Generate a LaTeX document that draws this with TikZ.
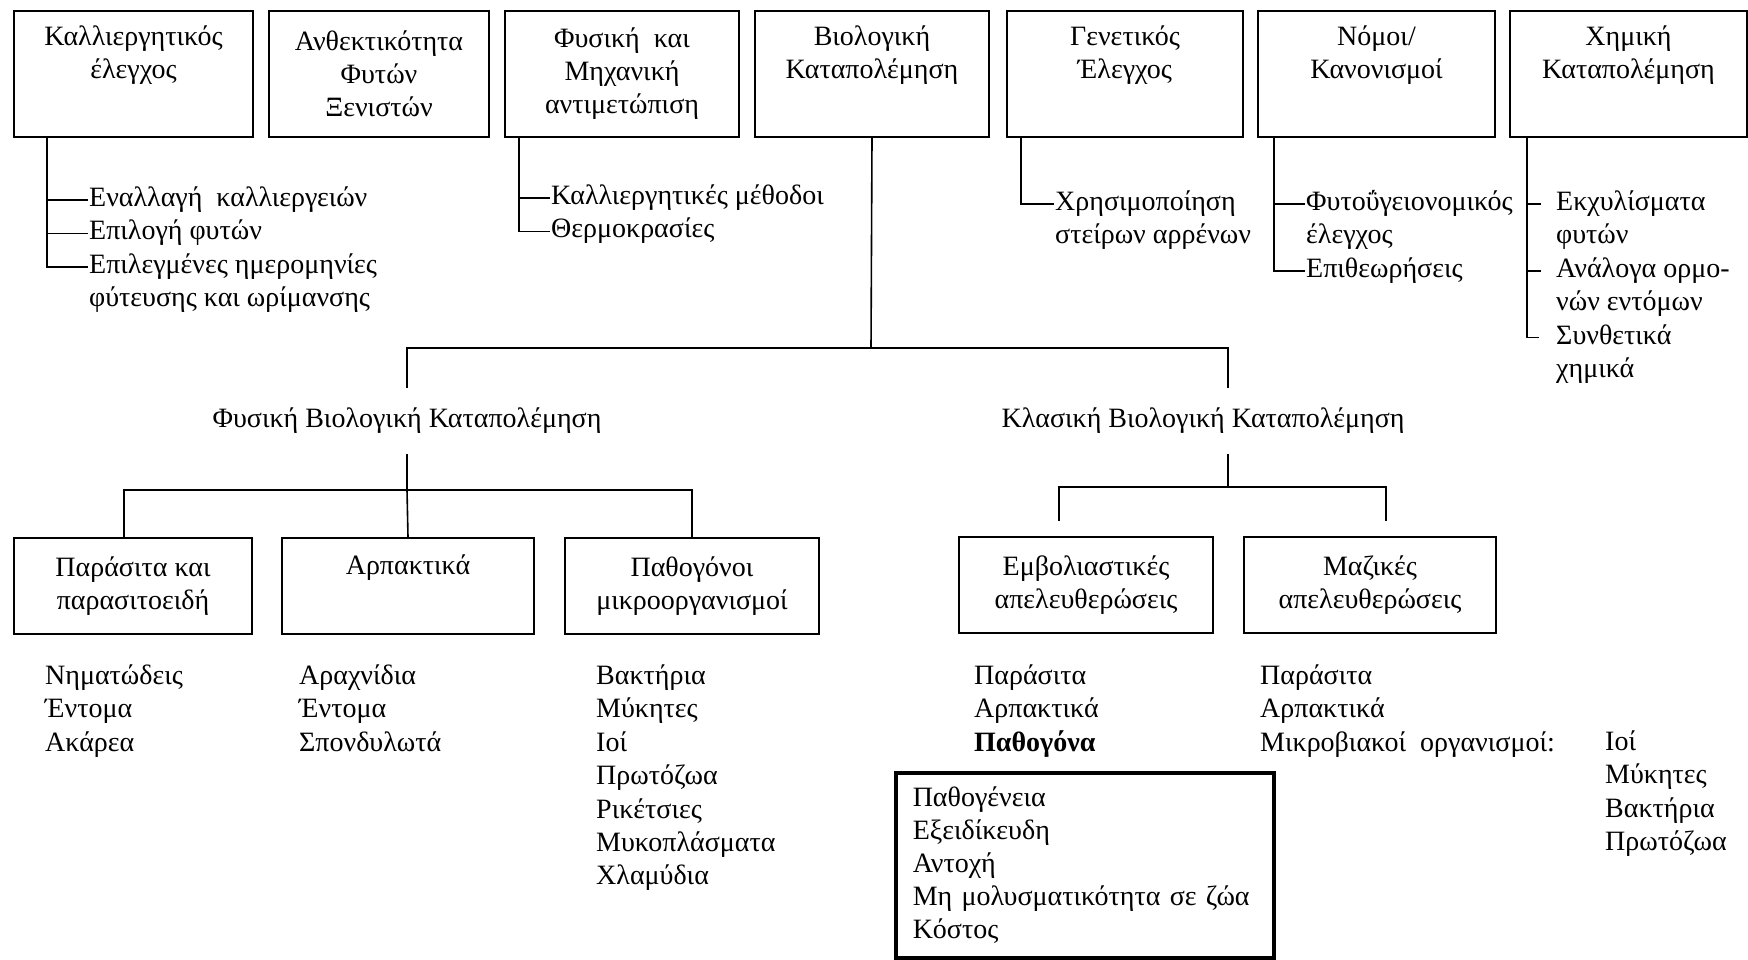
\documentclass[tikz,border=0pt]{standalone}
\usepackage{fontspec}
\setmainfont{Liberation Serif}
\usetikzlibrary{positioning, calc}
\tikzset{
    node distance=0pt, % list lines are stacked with no gap
    every node/.style={font=\fontsize{28}{33}\selectfont},
    topbox/.style={ % boxes of the top row
        draw, line width=2pt,
        anchor=north west,
        minimum height=126pt,
        align=center
    },
    lowbox/.style={ % boxes under the two branches
        draw, line width=2pt,
        anchor=north west,
        minimum height=96pt,
        align=center
    },
    item/.style={ % one line of a list
        anchor=west,
        inner xsep=1pt, inner ysep=0pt,
        text height=23pt, text depth=10pt
    },
    level/.style={inner xsep=0pt, inner ysep=20pt},
    link/.style={draw, line width=1.6pt},
}

\begin{document}
\begin{tikzpicture}[x=1pt, y=-1pt]
    \useasboundingbox (0,0) rectangle (1748,959);

    % top row
    \node[topbox, minimum width=239pt] (cult)   at (13,10)   {Καλλιεργητικός\\ έλεγχος\\ \strut};
    \node[topbox, minimum width=220pt] (resist) at (268,10)  {Ανθεκτικότητα\\ Φυτών\\ Ξενιστών};
    \node[topbox, minimum width=234pt] (mech)   at (504,10)  {Φυσική~ και\\ Μηχανική\\ αντιμετώπιση};
    \node[topbox, minimum width=234pt] (bio)    at (754,10)  {Βιολογική\\ Καταπολέμηση\\ \strut};
    \node[topbox, minimum width=236pt] (gen)    at (1006,10) {Γενετικός\\ Έλεγχος\\ \strut};
    \node[topbox, minimum width=237pt] (law)    at (1257,10) {Νόμοι/\\ Κανονισμοί\\ \strut};
    \node[topbox, minimum width=237pt] (chem)   at (1509,10) {Χημική\\ Καταπολέμηση\\ \strut};

    % lists under the top row
    \node[item] (cult1) at (88,200) {Εναλλαγή~ καλλιεργειών};
    \node[item, below right=of cult1.south west] (cult2) {Επιλογή φυτών};
    \node[item, below right=of cult2.south west] (cult3) {Επιλεγμένες ημερομηνίες};
    \node[item, below right=of cult3.south west] (cult4) {φύτευσης και ωρίμανσης};

    \node[item] (mech1) at (550,198) {Καλλιεργητικές μέθοδοι};
    \node[item, below right=of mech1.south west] (mech2) {Θερμοκρασίες};

    \node[item] (gen1) at (1054,204) {Χρησιμοποίηση};
    \node[item, below right=of gen1.south west] (gen2) {στείρων αρρένων};

    \node[item] (law1) at (1305,204) {Φυτοΰγειονομικός};
    \node[item, below right=of law1.south west] (law2) {έλεγχος};
    \node[item, below right=of law2.south west] (law3) {Επιθεωρήσεις};

    \node[item] (chem1) at (1555,204) {Εκχυλίσματα};
    \node[item, below right=of chem1.south west] (chem2) {φυτών};
    \node[item, below right=of chem2.south west] (chem3) {Ανάλογα ορμο-};
    \node[item, below right=of chem3.south west] (chem4) {νών εντόμων};
    \node[item, below right=of chem4.south west] (chem5) {Συνθετικά};
    \node[item, below right=of chem5.south west] (chem6) {χημικά};

    \draw[link] ([xshift=34pt]cult.south west) |- (cult1.west)
                ([xshift=34pt]cult.south west) |- (cult2.west)
                ([xshift=34pt]cult.south west) |- (cult3.west);
    \draw[link] ([xshift=15pt]mech.south west) |- (mech1.west)
                ([xshift=15pt]mech.south west) |- (mech2.west);
    \draw[link] ([xshift=15pt]gen.south west)  |- (gen1.west);
    \draw[link] ([xshift=17pt]law.south west)  |- (law1.west)
                ([xshift=17pt]law.south west)  |- (law3.west);
    \draw[link] ([xshift=18pt]chem.south west) |- ([xshift=-14pt]chem1.west)
                ([xshift=18pt]chem.south west) |- ([xshift=-14pt]chem3.west)
                ([xshift=18pt]chem.south west) |- ([xshift=-16pt]chem5.west);

    % the two kinds of biological control
    \node[level] (natural) at (407,421)  {Φυσική Βιολογική Καταπολέμηση};
    \node[level] (classic) at (1203,421) {Κλασική Βιολογική Καταπολέμηση};
    \coordinate (biofork) at (871,348);
    \draw[link] (bio.south) -- (biofork);
    \draw[link] (natural.north) |- (biofork) -| ([xshift=25pt]classic.north);

    \node[lowbox, minimum width=238pt] (parasites)   at (13,537)  {Παράσιτα και\\ παρασιτοειδή};
    \node[lowbox, minimum width=252pt] (predators)   at (281,537) {Αρπακτικά\\ \strut};
    \node[lowbox, minimum width=254pt] (pathogens)   at (564,537) {Παθογόνοι\\ μικροοργανισμοί};
    \node[lowbox, minimum width=254pt] (inoculative) at (958,536) {Εμβολιαστικές\\ απελευθερώσεις};
    \node[lowbox, minimum width=252pt] (mass)        at (1243,536) {Μαζικές\\ απελευθερώσεις};

    \coordinate (natbus) at (407,490);
    \draw[link] (natural.south) -- (natbus);
    \draw[link] ([xshift=-9pt]parasites.north) |- (natbus) -| (pathogens.north);
    \draw[link] (natbus) -- (predators.north);

    \coordinate (clsbus) at (1228,487);
    \draw[link] ([xshift=25pt]classic.south) -- (clsbus);
    \draw[link] ([xshift=-27pt,yshift=15pt]inoculative.north) |- (clsbus)
                -| ([xshift=16pt,yshift=15pt]mass.north);

    % lists under the lower boxes
    \node[item] (nem) at (44,678) {Νηματώδεις};
    \node[item, below right=of nem.south west] (ins) {Έντομα};
    \node[item, below right=of ins.south west] (mite) {Ακάρεα};

    \node[item] (arach) at (298,678) {Αραχνίδια};
    \node[item, below right=of arach.south west] (ins2) {Έντομα};
    \node[item, below right=of ins2.south west] (vert) {Σπονδυλωτά};

    \node[item] (bact) at (595,678) {Βακτήρια};
    \node[item, below right=of bact.south west]  (fung)  {Μύκητες};
    \node[item, below right=of fung.south west]  (vir)   {Ιοί};
    \node[item, below right=of vir.south west]   (prot)  {Πρωτόζωα};
    \node[item, below right=of prot.south west]  (rick)  {Ρικέτσιες};
    \node[item, below right=of rick.south west]  (myco)  {Μυκοπλάσματα};
    \node[item, below right=of myco.south west]  (chlam) {Χλαμύδια};

    \node[item] (inpar) at (973,678) {Παράσιτα};
    \node[item, below right=of inpar.south west] (inpred) {Αρπακτικά};
    \node[item, below right=of inpred.south west] (inpath) {\textbf{Παθογόνα}};

    \node[item] (mspar) at (1259,678) {Παράσιτα};
    \node[item, below right=of mspar.south west] (mspred) {Αρπακτικά};
    \node[item, below right=of mspred.south west] (msmicro) {Μικροβιακοί~ οργανισμοί:};

    \node[item] (msvir) at (1604,744) {Ιοί};
    \node[item, below right=of msvir.south west]  (msfung) {Μύκητες};
    \node[item, below right=of msfung.south west] (msbact) {Βακτήρια};
    \node[item, below right=of msbact.south west] (msprot) {Πρωτόζωα};

    \node[draw, line width=3.5pt, anchor=north west, minimum height=185pt,
          text width=344pt, inner xsep=17pt, align=left] (criteria) at (894,771)
        {Παθογένεια\\ Εξειδίκευδη\\ Αντοχή\\ Μη μολυσματικότητα σε ζώα\\ Κόστος};
\end{tikzpicture}
\end{document}
